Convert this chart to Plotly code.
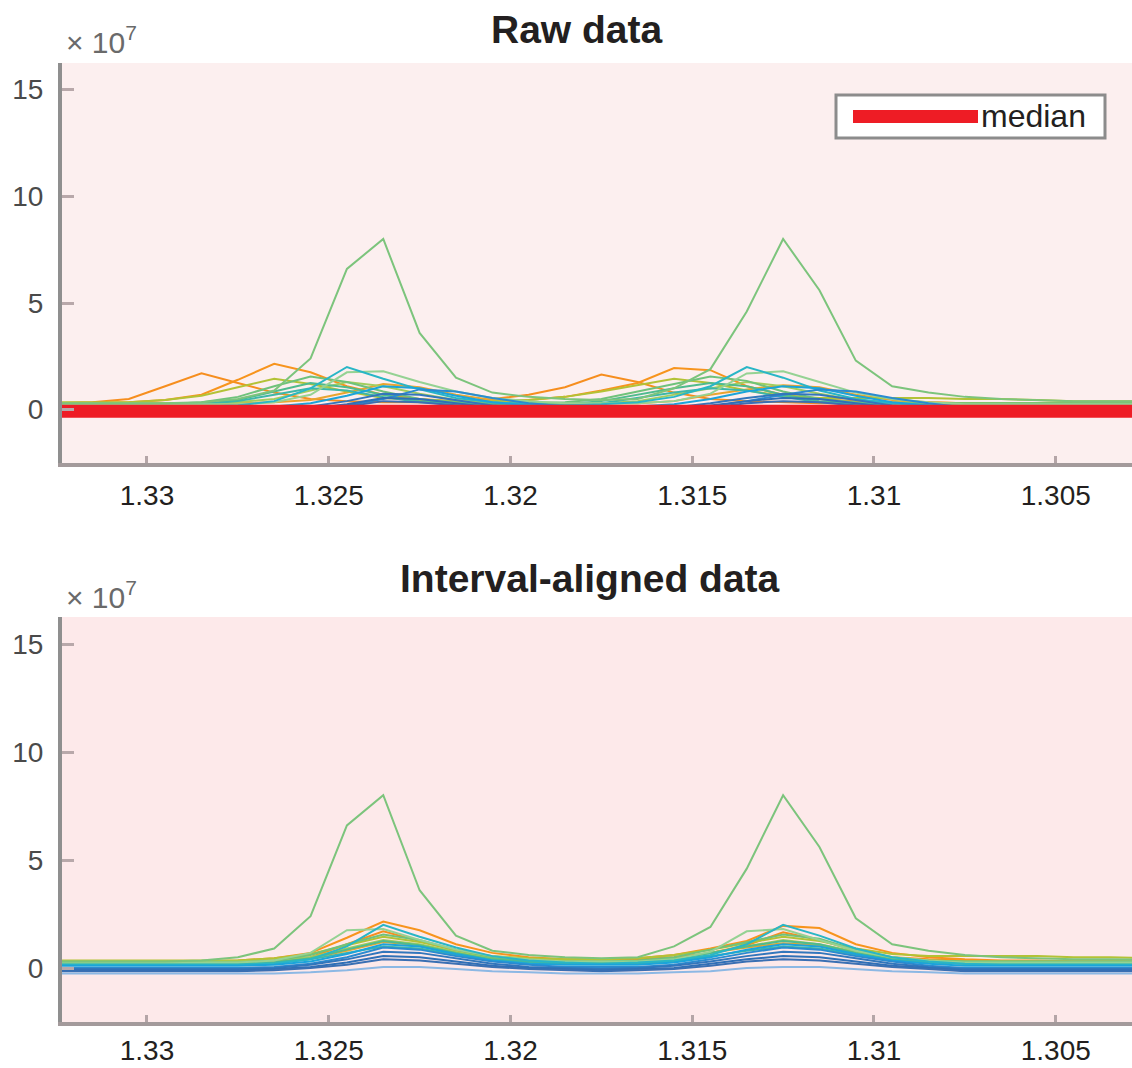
import plotly.graph_objects as go

# ---------------- data ----------------
ppm = [1.3335, 1.3325, 1.3315, 1.3305, 1.3295, 1.3285, 1.3275, 1.3265, 1.3255, 1.3245,
       1.3235, 1.3225, 1.3215, 1.3205, 1.3195, 1.3185, 1.3175, 1.3165, 1.3155, 1.3145,
       1.3135, 1.3125, 1.3115, 1.3105, 1.3095, 1.3085, 1.3075, 1.3065, 1.3055, 1.3045,
       1.3035, 1.3025, 1.3015, 1.3005, 1.2995, 1.2985, 1.2975]

# aligned spectra (x1e7), one list per sample
s_green_big = [0.3, 0.3, 0.3, 0.3, 0.3, 0.35, 0.5, 0.9, 2.4, 6.6, 8.0, 3.6, 1.5, 0.8, 0.6, 0.5, 0.45, 0.5, 1.0,
               1.9, 4.6, 8.0, 5.6, 2.3, 1.1, 0.8, 0.6, 0.5, 0.45, 0.4, 0.4, 0.4, 0.35, 0.35, 0.3, 0.3, 0.3]
s_orange_b = [0.3, 0.3, 0.3, 0.3, 0.3, 0.3, 0.35, 0.45, 0.7, 1.4, 2.15, 1.75, 1.1, 0.7, 0.5, 0.4, 0.4, 0.45, 0.6,
              0.9, 1.25, 1.95, 1.85, 1.1, 0.7, 0.5, 0.4, 0.35, 0.35, 0.3, 0.3, 0.3, 0.3, 0.3, 0.3, 0.3, 0.3]
s_orange_a = [0.3, 0.3, 0.3, 0.3, 0.3, 0.3, 0.3, 0.35, 0.5, 1.1, 1.7, 1.25, 0.8, 0.5, 0.4, 0.35, 0.35, 0.4, 0.5,
              0.7, 1.05, 1.65, 1.3, 0.8, 0.5, 0.4, 0.35, 0.3, 0.3, 0.3, 0.3, 0.3, 0.3, 0.3, 0.3, 0.3, 0.3]
s_teal = [0.15, 0.15, 0.15, 0.15, 0.15, 0.15, 0.15, 0.2, 0.4, 1.0, 2.0, 1.45, 0.95, 0.55, 0.35, 0.25, 0.2, 0.25, 0.35,
          0.6, 1.1, 2.0, 1.5, 0.9, 0.5, 0.3, 0.2, 0.15, 0.15, 0.15, 0.15, 0.15, 0.15, 0.15, 0.15, 0.15, 0.15]
s_light_green = [0.25, 0.25, 0.25, 0.25, 0.25, 0.25, 0.25, 0.35, 0.7, 1.75, 1.8, 1.3, 0.85, 0.55, 0.4, 0.3, 0.3, 0.3, 0.4,
                 0.75, 1.7, 1.8, 1.3, 0.8, 0.5, 0.35, 0.25, 0.25, 0.25, 0.25, 0.25, 0.25, 0.25, 0.25, 0.25, 0.25, 0.25]
s_green = [0.25, 0.25, 0.25, 0.25, 0.25, 0.25, 0.25, 0.35, 0.6, 1.1, 1.55, 1.3, 0.85, 0.5, 0.35, 0.3, 0.3, 0.35, 0.5,
           0.85, 1.2, 1.55, 1.35, 0.85, 0.5, 0.35, 0.3, 0.3, 0.3, 0.3, 0.3, 0.3, 0.3, 0.3, 0.3, 0.3, 0.3]
s_olive = [0.35, 0.35, 0.35, 0.35, 0.35, 0.35, 0.35, 0.45, 0.65, 1.05, 1.45, 1.2, 0.85, 0.55, 0.45, 0.4, 0.4, 0.45, 0.6,
           0.85, 1.15, 1.45, 1.25, 0.9, 0.65, 0.55, 0.55, 0.55, 0.55, 0.5, 0.5, 0.45, 0.4, 0.4, 0.4, 0.4, 0.4]
s_sea_green = [0.2, 0.2, 0.2, 0.2, 0.2, 0.2, 0.2, 0.25, 0.45, 0.85, 1.25, 1.05, 0.7, 0.4, 0.3, 0.25, 0.25, 0.25, 0.4,
               0.7, 1.0, 1.25, 1.1, 0.7, 0.4, 0.3, 0.2, 0.2, 0.2, 0.2, 0.2, 0.2, 0.2, 0.2, 0.2, 0.2, 0.2]
s_yellow_green = [0.3, 0.3, 0.3, 0.3, 0.3, 0.3, 0.3, 0.35, 0.5, 0.9, 1.3, 1.1, 0.75, 0.45, 0.35, 0.3, 0.3, 0.3, 0.4,
                  0.7, 1.0, 1.3, 1.1, 0.75, 0.45, 0.35, 0.3, 0.3, 0.3, 0.3, 0.3, 0.3, 0.3, 0.3, 0.3, 0.3, 0.3]
s_amber = [0.3, 0.3, 0.3, 0.3, 0.3, 0.3, 0.3, 0.35, 0.45, 0.8, 1.2, 1.05, 0.7, 0.45, 0.35, 0.3, 0.3, 0.3, 0.4,
           0.7, 0.95, 1.15, 1.05, 0.7, 0.45, 0.35, 0.3, 0.3, 0.3, 0.3, 0.3, 0.3, 0.3, 0.3, 0.3, 0.3, 0.3]
s_teal_green = [0.2, 0.2, 0.2, 0.2, 0.2, 0.2, 0.2, 0.25, 0.4, 0.7, 1.0, 0.9, 0.6, 0.35, 0.25, 0.2, 0.2, 0.2, 0.3,
                0.55, 0.8, 1.0, 0.9, 0.6, 0.35, 0.25, 0.2, 0.2, 0.2, 0.2, 0.2, 0.2, 0.2, 0.2, 0.2, 0.2, 0.2]
s_cyan = [0.1, 0.1, 0.1, 0.1, 0.1, 0.1, 0.1, 0.15, 0.3, 0.65, 1.1, 1.0, 0.65, 0.35, 0.2, 0.15, 0.15, 0.15, 0.25,
          0.5, 0.85, 1.1, 1.0, 0.65, 0.35, 0.2, 0.1, 0.1, 0.1, 0.1, 0.1, 0.1, 0.1, 0.1, 0.1, 0.1, 0.1]
s_blue1 = [0.0, 0.0, 0.0, 0.0, 0.0, 0.0, 0.0, 0.05, 0.2, 0.5, 0.95, 0.85, 0.55, 0.3, 0.15, 0.05, 0.05, 0.05, 0.15,
           0.4, 0.7, 0.95, 0.85, 0.55, 0.3, 0.1, 0.0, 0.0, 0.0, 0.0, 0.0, 0.0, 0.0, 0.0, 0.0, 0.0, 0.0]
s_blue2 = [-0.05, -0.05, -0.05, -0.05, -0.05, -0.05, -0.05, 0.0, 0.15, 0.4, 0.75, 0.7, 0.45, 0.2, 0.05, 0.0, -0.05, 0.0, 0.1,
           0.3, 0.55, 0.75, 0.7, 0.45, 0.2, 0.05, -0.05, -0.05, -0.05, -0.05, -0.05, -0.05, -0.05, -0.05, -0.05, -0.05, -0.05]
s_blue3 = [-0.1, -0.1, -0.1, -0.1, -0.1, -0.1, -0.1, -0.05, 0.05, 0.25, 0.55, 0.5, 0.3, 0.1, 0.0, -0.05, -0.1, -0.05, 0.0,
           0.2, 0.4, 0.55, 0.5, 0.3, 0.1, 0.0, -0.1, -0.1, -0.1, -0.1, -0.1, -0.1, -0.1, -0.1, -0.1, -0.1, -0.1]
s_blue4 = [-0.15, -0.15, -0.15, -0.15, -0.15, -0.15, -0.15, -0.1, 0.0, 0.15, 0.4, 0.35, 0.2, 0.05, -0.05, -0.1, -0.15, -0.1, -0.05,
           0.1, 0.3, 0.4, 0.35, 0.2, 0.05, -0.05, -0.15, -0.15, -0.15, -0.15, -0.15, -0.15, -0.15, -0.15, -0.15, -0.15, -0.15]
s_light_blue = [-0.25, -0.25, -0.25, -0.25, -0.25, -0.25, -0.25, -0.25, -0.2, -0.1, 0.05, 0.05, -0.05, -0.15, -0.2, -0.25, -0.25, -0.25, -0.2,
                -0.15, 0.0, 0.05, 0.05, -0.05, -0.15, -0.2, -0.25, -0.25, -0.25, -0.25, -0.25, -0.25, -0.25, -0.25, -0.25, -0.25, -0.25]

spectra = [s_orange_a, s_orange_b, s_amber, s_olive, s_yellow_green, s_green, s_sea_green, s_teal_green,
           s_light_green, s_teal, s_cyan, s_blue1, s_blue2, s_blue3, s_blue4, s_light_blue, s_green_big]
colors = ["#f68e1e", "#f7941d", "#eaa42e", "#b3c236", "#a2cd5e", "#6fc27b", "#4fbb8e", "#3db7a8",
          "#95d293", "#29b6c6", "#1ba4da", "#2a8bd0", "#3276bc", "#2f6fb6", "#3a6fb3", "#8cb8e4", "#7cc47c"]
# chemical-shift misalignment of each raw spectrum (ppm)
raw_offsets = [0.005, 0.003, 0.0, 0.003, 0.001, 0.002, 0.002, 0.002,
               0.0, 0.001, 0.0, -0.001, 0.0, 0.0, 0.0, 0.0, 0.0]

median_raw = [-0.08, -0.08, -0.08, -0.08, -0.08, -0.08, -0.08, -0.06, -0.03, 0.0, 0.05, 0.05, 0.02, -0.02, -0.05, -0.06, -0.06, -0.06, -0.05,
              -0.02, 0.02, 0.05, 0.05, 0.02, -0.02, -0.05, -0.07, -0.08, -0.08, -0.08, -0.08, -0.08, -0.08, -0.08, -0.08, -0.08, -0.08]

x_tickvals = [1.33, 1.325, 1.32, 1.315, 1.31, 1.305]
x_ticktext = ["1.33", "1.325", "1.32", "1.315", "1.31", "1.305"]
y_tickvals = [0, 5, 10, 15]
y_ticktext = ["0", "5", "10", "15"]

# ---------------- figure ----------------
W, H = 1132, 1068
L = 62
PW = W - L

def px(xp):
    return (xp - L) / PW

def py(yp):
    return 1 - yp / H

fig = go.Figure()

for s, c, off in zip(spectra, colors, raw_offsets):
    fig.add_trace(go.Scatter(x=[p + off for p in ppm], y=s, mode="lines",
                             line=dict(color=c, width=2), showlegend=False,
                             xaxis="x", yaxis="y", hoverinfo="skip"))
fig.add_trace(go.Scatter(x=ppm, y=median_raw, mode="lines", name="median",
                         line=dict(color="#ee1c25", width=13), showlegend=False,
                         xaxis="x", yaxis="y"))

for s, c in zip(spectra, colors):
    fig.add_trace(go.Scatter(x=ppm, y=s, mode="lines",
                             line=dict(color=c, width=2), showlegend=False,
                             xaxis="x2", yaxis="y2", hoverinfo="skip"))

font_family = "Liberation Sans, Arial, sans-serif"

xcommon = dict(range=[1.332338, 1.302902], tickvals=x_tickvals, ticktext=x_ticktext,
               ticks="inside", ticklen=7, tickwidth=3, tickcolor="#b4a5a7",
               showline=True, linecolor="#a39a9b", linewidth=4, showgrid=False, zeroline=False,
               automargin=False,
               tickfont=dict(family=font_family, size=28, color="#231f20"), domain=[0, 1])
ycommon = dict(range=[-2.5, 16.25], tickvals=y_tickvals, ticktext=y_ticktext,
               ticks="inside", ticklen=12, tickwidth=3, tickcolor="#b8a8aa",
               showline=True, linecolor="#8f8f8f", linewidth=4, showgrid=False, zeroline=False,
               automargin=False, ticklabelstandoff=9,
               tickfont=dict(family=font_family, size=28, color="#4a4a4a"))

fig.update_layout(
    template="none",
    width=W, height=H,
    margin=dict(l=L, r=0, t=0, b=0, pad=0),
    font=dict(family=font_family, color="#231f20"),
    paper_bgcolor="white",
    plot_bgcolor="#fcefef",
    showlegend=False,
    xaxis=dict(**xcommon, anchor="y", ticklabelstandoff=4),
    yaxis=dict(**ycommon, domain=[py(463), py(63)], anchor="x"),
    xaxis2=dict(**xcommon, anchor="y2"),
    yaxis2=dict(**ycommon, domain=[py(1022), py(617)], anchor="x2"),
)

# bottom panel background slightly pinker
fig.add_shape(type="rect", xref="x2 domain", yref="y2 domain", x0=0, x1=1, y0=0, y1=1,
              fillcolor="#fde9ea", line=dict(width=0), layer="below")

fig.add_annotation(text="<b>Raw data</b>", x=px(577), y=py(30), xref="paper", yref="paper",
                   showarrow=False, xanchor="center", yanchor="middle",
                   font=dict(family=font_family, size=39, color="#231f20"))
fig.add_annotation(text="<b>Interval-aligned data</b>", x=px(590), y=py(578), xref="paper", yref="paper",
                   showarrow=False, xanchor="center", yanchor="middle",
                   font=dict(family=font_family, size=39, color="#231f20"))
for yc in (40, 595):
    fig.add_annotation(text="× 10<sup>7</sup>", x=px(64), y=py(yc), xref="paper", yref="paper",
                       showarrow=False, xanchor="left", yanchor="middle",
                       font=dict(family=font_family, size=30, color="#6a6a6a"))

# legend box
fig.add_shape(type="rect", xref="paper", yref="paper", x0=px(836), x1=px(1105), y0=py(138), y1=py(95),
              fillcolor="white", line=dict(color="#8c8c8c", width=3))
fig.add_shape(type="line", xref="paper", yref="paper", x0=px(853), x1=px(978), y0=py(116.5), y1=py(116.5),
              line=dict(color="#ee1c25", width=13))
fig.add_annotation(text="median", x=px(979), y=py(116), xref="paper", yref="paper",
                   showarrow=False, xanchor="left", yanchor="middle",
                   font=dict(family=font_family, size=32, color="#231f20"))

fig.write_html("out.html", config={"displayModeBar": False},
               post_script="document.body.style.margin='0px';document.body.style.overflow='hidden';")
